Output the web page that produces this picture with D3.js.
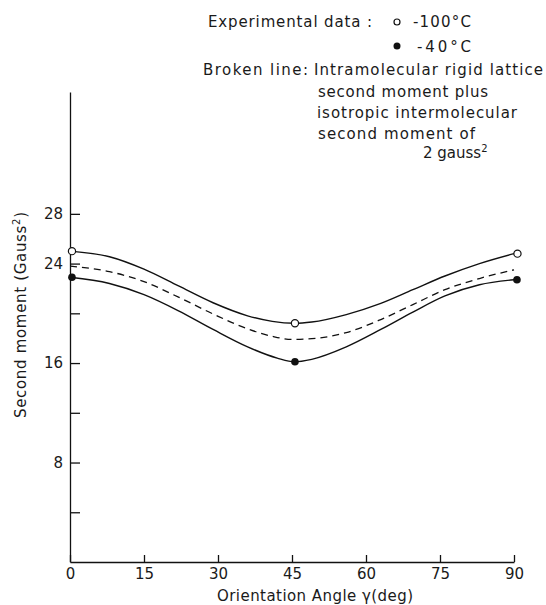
<!DOCTYPE html>
<html>
<head>
<meta charset="utf-8">
<script src="https://cdn.jsdelivr.net/npm/d3@7"></script>
<style>
  html, body { margin: 0; padding: 0; background: #fff; }
  svg { display: block; }
  text { font-family: "DejaVu Sans", sans-serif; fill: #1a1a1a; }
</style>
</head>
<body>
<svg id="chart" width="546" height="605"></svg>
<script>
// ---- data ----
const xTicks = [0, 15, 30, 45, 60, 75, 90];
const yTicks = [4, 8, 12, 16, 20, 24, 28];
const yTickLabels = [8, 16, 24, 28];

// solid curve through the -100°C data
const upperAngles = [0, 8, 15, 22, 29, 36, 41, 45.5, 49, 56, 63, 69.5, 76, 83, 90];
const upperValues = [25.0, 24.55, 23.55, 22.2, 20.85, 19.8, 19.35, 19.2, 19.3, 19.9, 20.8, 21.9, 23.0, 24.0, 24.8];

// solid curve through the -40°C data
const lowerAngles = [0, 8, 15, 22, 29, 36, 42, 45.5, 49, 56, 63, 69.5, 76, 83, 90];
const lowerValues = [22.9, 22.4, 21.5, 20.2, 18.7, 17.3, 16.4, 16.1, 16.3, 17.3, 18.7, 20.1, 21.4, 22.3, 22.7];

// broken line: rigid lattice + 2 gauss^2
const brokenAngles = [0, 8, 15, 22, 29, 36, 41, 45, 50, 56, 63, 69.5, 76, 83, 90];
const brokenValues = [23.8, 23.35, 22.55, 21.3, 19.95, 18.75, 18.15, 17.9, 18.0, 18.45, 19.5, 20.7, 21.9, 22.8, 23.5];

// experimental points
const openAngles = [0.4, 45.6, 90.7];     // -100°C
const openValues = [25.0, 19.2, 24.8];
const filledAngles = [0.4, 45.6, 90.6];   // -40°C
const filledValues = [22.9, 16.1, 22.7];

const yAxisTop = 37.8;

const legendLines = [
  "Experimental data :",
  "-100°C",
  "-40°C",
  "Broken line:",
  "Intramolecular rigid lattice",
  "second moment plus",
  "isotropic intermolecular",
  "second moment of"
];

// ---- drawing ----
const svg = d3.select("#chart");
const x = d3.scaleLinear().domain([0, 90]).range([70, 514]);
const y = d3.scaleLinear().domain([0, yAxisTop]).range([562, 92]);

const zip = (a, b) => a.map((v, i) => [v, b[i]]);
const line = d3.line().x(d => x(d[0])).y(d => y(d[1])).curve(d3.curveMonotoneX);

// x axis
const gx = svg.append("g").attr("transform", `translate(0,${y(0)})`)
  .call(d3.axisBottom(x).tickValues(xTicks).tickSize(-7).tickSizeOuter(0).tickPadding(6));
gx.selectAll("text").style("font-size", "15px").attr("font-family", null);
gx.selectAll("path,line").attr("stroke", "#111").attr("stroke-width", 1.3);

// y axis
const gy = svg.append("g").attr("transform", `translate(${x(0)},0)`)
  .call(d3.axisLeft(y).tickValues(yTicks).tickSize(-10).tickSizeOuter(0).tickPadding(7)
    .tickFormat(d => yTickLabels.includes(d) ? d : ""));
gy.selectAll("text").style("font-size", "15px").attr("font-family", null);
gy.selectAll("path,line").attr("stroke", "#111").attr("stroke-width", 1.3);

// curves
svg.append("path").attr("d", line(zip(upperAngles, upperValues)))
  .attr("fill", "none").attr("stroke", "#111").attr("stroke-width", 1.4);
svg.append("path").attr("d", line(zip(lowerAngles, lowerValues)))
  .attr("fill", "none").attr("stroke", "#111").attr("stroke-width", 1.4);
svg.append("path").attr("d", line(zip(brokenAngles, brokenValues)))
  .attr("fill", "none").attr("stroke", "#111").attr("stroke-width", 1.3)
  .attr("stroke-dasharray", "7,5");

// points
svg.selectAll("circle.open").data(zip(openAngles, openValues)).enter().append("circle")
  .attr("class", "open").attr("cx", d => x(d[0])).attr("cy", d => y(d[1])).attr("r", 3.6)
  .attr("fill", "#fff").attr("stroke", "#111").attr("stroke-width", 1.2);
svg.selectAll("circle.filled").data(zip(filledAngles, filledValues)).enter().append("circle")
  .attr("class", "filled").attr("cx", d => x(d[0])).attr("cy", d => y(d[1])).attr("r", 3.8)
  .attr("fill", "#111");

// axis titles
svg.append("text").attr("x", 315).attr("y", 601).attr("text-anchor", "middle")
  .style("font-size", "15px").attr("textLength", 196).attr("lengthAdjust", "spacing")
  .text("Orientation Angle γ(deg)");
const yl = svg.append("text").attr("transform", "translate(26,315) rotate(-90)")
  .attr("text-anchor", "middle").style("font-size", "15px")
  .attr("textLength", 206).attr("lengthAdjust", "spacing");
yl.append("tspan").text("Second  moment  (Gauss");
yl.append("tspan").attr("dy", -6).style("font-size", "10px").text("2");
yl.append("tspan").attr("dy", 6).text(")");

// legend
const lg = svg.append("g").style("font-size", "15px");
const legendPos = [
  [208, 27, 164], [413, 27, 58], [417, 52, 54], [203, 75, 105],
  [314, 75, 229], [318, 97, 170], [317, 118, 200], [318, 139, 157]
];
legendLines.forEach((t, i) => {
  lg.append("text").attr("x", legendPos[i][0]).attr("y", legendPos[i][1])
    .attr("textLength", legendPos[i][2]).attr("lengthAdjust", "spacing").text(t);
});
const g2 = lg.append("text").attr("x", 423).attr("y", 158);
g2.append("tspan").text("2 gauss");
g2.append("tspan").attr("dy", -6).style("font-size", "10px").text("2");
lg.append("circle").attr("cx", 397).attr("cy", 22).attr("r", 3).attr("fill", "#fff")
  .attr("stroke", "#111").attr("stroke-width", 1.2);
lg.append("circle").attr("cx", 397).attr("cy", 46).attr("r", 3.5).attr("fill", "#111");
</script>
</body>
</html>
